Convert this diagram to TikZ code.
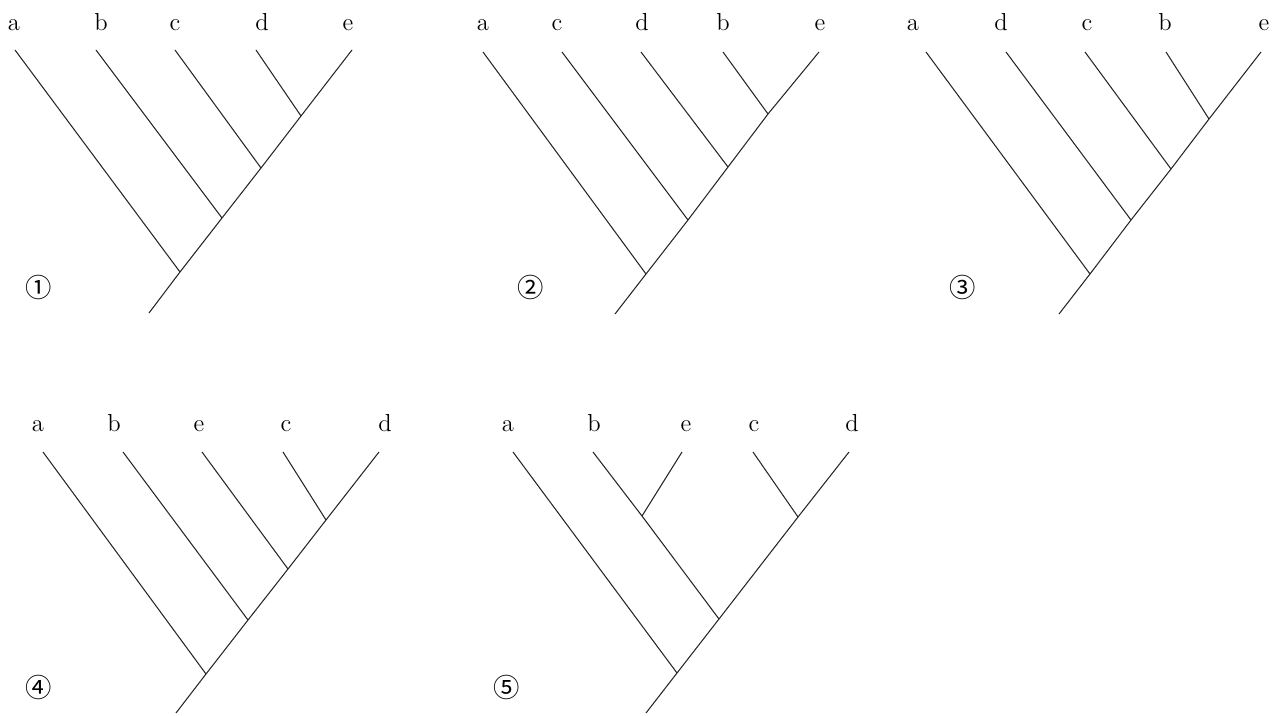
\documentclass[tikz,border=0pt]{standalone}
\usepackage{fontspec}
\newfontfamily\circfont{Noto Sans CJK JP}

\begin{document}
\begin{tikzpicture}[
  x=0.02cm, y=-0.02cm,
  every node/.style={inner sep=0pt},
  leaf/.style={anchor=base, font=\fontsize{14}{16}\selectfont},
  tag/.style={font=\circfont\fontsize{15}{17}\selectfont},
  branch/.style={line width=0.6pt, color=black!85}
]
\useasboundingbox (0,0) rectangle (1282,716);

% ── Tree 1 ───────────────────────────────────────────────────────────────────
\node[leaf] (oneA) at (14,31)  {a};
\node[leaf] (oneB) at (101,31) {b};
\node[leaf] (oneC) at (175,31) {c};
\node[leaf] (oneD) at (262,31) {d};
\node[leaf] (oneE) at (348,31) {e};
\node[tag]  (oneNum) at (39,287) {①};

\coordinate (oneTa) at (15,50);
\coordinate (oneTb) at (96,50);
\coordinate (oneTc) at (175,50);
\coordinate (oneTd) at (256,50);
\coordinate (oneTe) at (352,50);
\coordinate (oneJd) at (301,116);
\coordinate (oneJc) at (261,168);
\coordinate (oneJb) at (222,218);
\coordinate (oneJa) at (180,272);
\coordinate (oneRoot) at (149,313);

\draw[branch] (oneRoot) -- (oneJa) -- (oneJb) -- (oneJc) -- (oneJd) -- (oneTe);
\draw[branch] (oneTa) -- (oneJa);
\draw[branch] (oneTb) -- (oneJb);
\draw[branch] (oneTc) -- (oneJc);
\draw[branch] (oneTd) -- (oneJd);

% ── Tree 2 ───────────────────────────────────────────────────────────────────
\node[leaf] (twoA) at (483,31) {a};
\node[leaf] (twoC) at (557,31) {c};
\node[leaf] (twoD) at (642,31) {d};
\node[leaf] (twoB) at (723,31) {b};
\node[leaf] (twoE) at (820,31) {e};
\node[tag]  (twoNum) at (531,287) {②};

\coordinate (twoTa) at (483,52);
\coordinate (twoTc) at (562,52);
\coordinate (twoTd) at (641,52);
\coordinate (twoTb) at (723,52);
\coordinate (twoTe) at (819,52);
\coordinate (twoJb) at (768,114);
\coordinate (twoJd) at (728,167);
\coordinate (twoJc) at (688,220);
\coordinate (twoJa) at (646,274);
\coordinate (twoRoot) at (615,314);

\draw[branch] (twoRoot) -- (twoJa) -- (twoJc) -- (twoJd) -- (twoJb) -- (twoTe);
\draw[branch] (twoTa) -- (twoJa);
\draw[branch] (twoTc) -- (twoJc);
\draw[branch] (twoTd) -- (twoJd);
\draw[branch] (twoTb) -- (twoJb);

% ── Tree 3 ───────────────────────────────────────────────────────────────────
\node[leaf] (threeA) at (913,31)  {a};
\node[leaf] (threeD) at (1001,31) {d};
\node[leaf] (threeC) at (1087,31) {c};
\node[leaf] (threeB) at (1165,31) {b};
\node[leaf] (threeE) at (1264,31) {e};
\node[tag]  (threeNum) at (963,287) {③};

\coordinate (threeTa) at (926,52);
\coordinate (threeTd) at (1006,52);
\coordinate (threeTc) at (1085,52);
\coordinate (threeTb) at (1166,52);
\coordinate (threeTe) at (1261,52);
\coordinate (threeJb) at (1209,119);
\coordinate (threeJc) at (1171,169);
\coordinate (threeJd) at (1131,220);
\coordinate (threeJa) at (1090,274);
\coordinate (threeRoot) at (1059,314);

\draw[branch] (threeRoot) -- (threeJa) -- (threeJd) -- (threeJc) -- (threeJb) -- (threeTe);
\draw[branch] (threeTa) -- (threeJa);
\draw[branch] (threeTd) -- (threeJd);
\draw[branch] (threeTc) -- (threeJc);
\draw[branch] (threeTb) -- (threeJb);

% ── Tree 4 ───────────────────────────────────────────────────────────────────
\node[leaf] (fourA) at (38,431)  {a};
\node[leaf] (fourB) at (114,431) {b};
\node[leaf] (fourE) at (199,431) {e};
\node[leaf] (fourC) at (286,431) {c};
\node[leaf] (fourD) at (385,431) {d};
\node[tag]  (fourNum) at (39,687) {④};

\coordinate (fourTa) at (43,452);
\coordinate (fourTb) at (123,452);
\coordinate (fourTe) at (202,452);
\coordinate (fourTc) at (283,452);
\coordinate (fourTd) at (379,452);
\coordinate (fourJc) at (326,520);
\coordinate (fourJe) at (288,569);
\coordinate (fourJb) at (248,620);
\coordinate (fourJa) at (206,674);
\coordinate (fourRoot) at (176,713);

\draw[branch] (fourRoot) -- (fourJa) -- (fourJb) -- (fourJe) -- (fourJc) -- (fourTd);
\draw[branch] (fourTa) -- (fourJa);
\draw[branch] (fourTb) -- (fourJb);
\draw[branch] (fourTe) -- (fourJe);
\draw[branch] (fourTc) -- (fourJc);

% ── Tree 5 ───────────────────────────────────────────────────────────────────
\node[leaf] (fiveA) at (508,431) {a};
\node[leaf] (fiveB) at (594,431) {b};
\node[leaf] (fiveE) at (686,431) {e};
\node[leaf] (fiveC) at (754,431) {c};
\node[leaf] (fiveD) at (852,431) {d};
\node[tag]  (fiveNum) at (507,687) {⑤};

\coordinate (fiveTa) at (513,452);
\coordinate (fiveTb) at (593,452);
\coordinate (fiveTe) at (682,452);
\coordinate (fiveTc) at (753,452);
\coordinate (fiveTd) at (849,452);
\coordinate (fiveJbe) at (642,516);
\coordinate (fiveJcd) at (798,517);
\coordinate (fiveJmid) at (719,619);
\coordinate (fiveJa) at (677,673);
\coordinate (fiveRoot) at (646,713);

\draw[branch] (fiveRoot) -- (fiveJa) -- (fiveJmid) -- (fiveJcd) -- (fiveTd);
\draw[branch] (fiveTa) -- (fiveJa);
\draw[branch] (fiveTb) -- (fiveJbe) -- (fiveJmid);
\draw[branch] (fiveTe) -- (fiveJbe);
\draw[branch] (fiveTc) -- (fiveJcd);

\end{tikzpicture}
\end{document}
